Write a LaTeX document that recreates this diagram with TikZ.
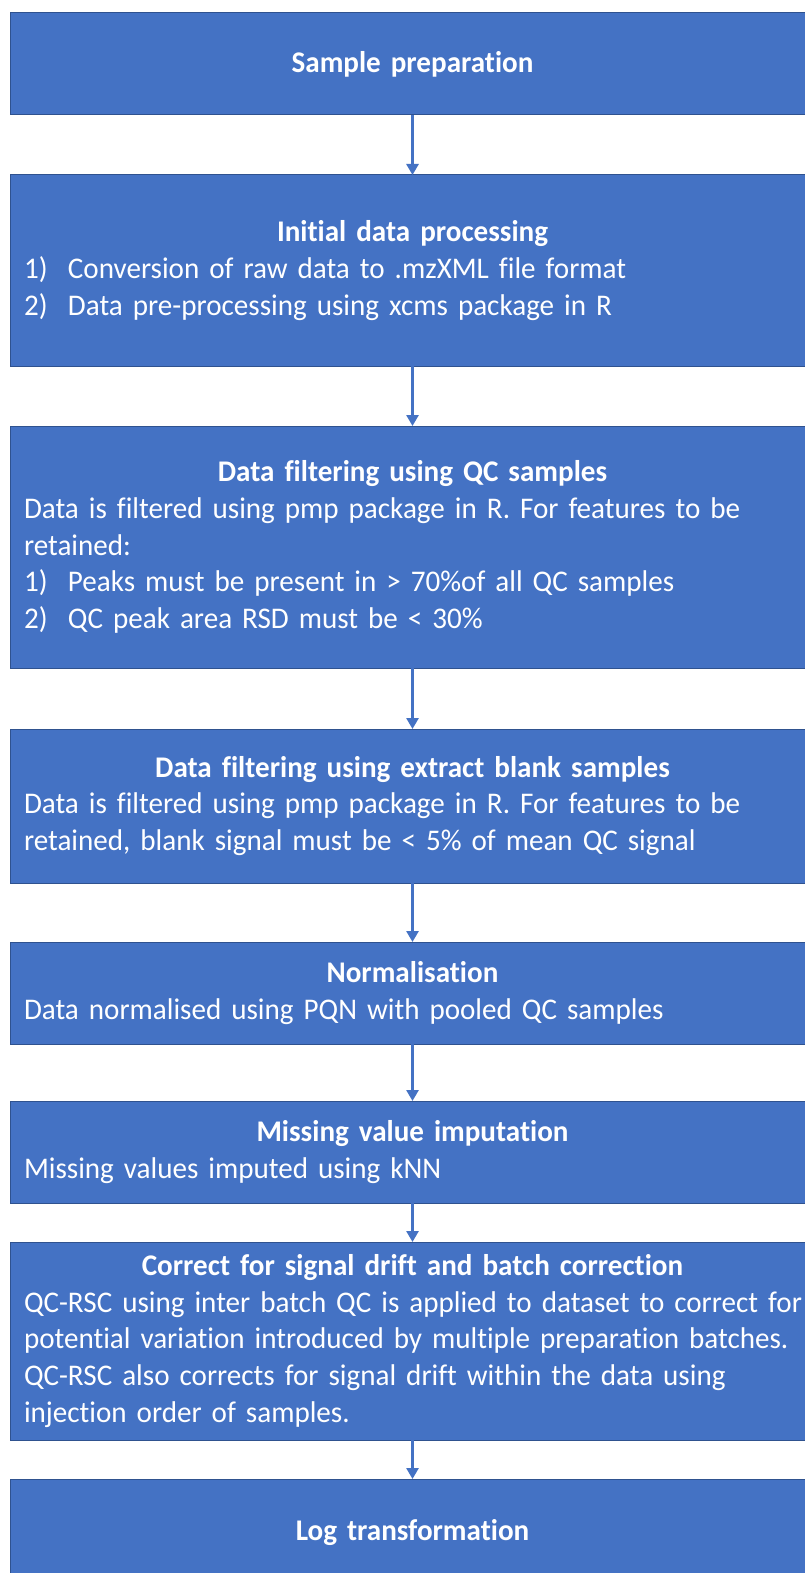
\documentclass[tikz,border=0pt]{standalone}
\usepackage{fontspec}
\setmainfont{Carlito}[Ligatures=NoCommon, FakeStretch=0.97]
\usetikzlibrary{arrows.meta}

\definecolor{boxfill}{HTML}{4472C4}
\definecolor{boxedge}{HTML}{2F528F}

% numbered list entry with a hanging label
\newcommand{\numitem}[2]{\mbox{\makebox[44pt][l]{#1}#2}}
\newcommand{\stagetitle}[1]{\makebox[777pt][c]{\bfseries #1}}

\tikzset{
  stage/.style={draw=boxedge, fill=boxfill, line width=1pt, text=white,
    anchor=north west, inner xsep=14pt, inner ysep=0pt, outer sep=0pt,
    text width=777pt, align=left, font=\fontsize{30}{36.6}\selectfont},
  flow/.style={draw=boxfill, line width=2.6pt,
    -{Triangle[width=12pt,length=11pt]}}
}

\begin{document}
\begin{tikzpicture}[x=1pt,y=1pt]
\clip (0,0) rectangle (805,-1573);
\fill[white] (0,0) rectangle (805,-1573);

\node[stage, minimum height=102pt] (prep) at (10,-13)
  {\stagetitle{Sample preparation}};

\node[stage, minimum height=191pt] (init) at (10,-175)
  {\stagetitle{Initial data processing}\\
   \numitem{1)}{Conversion of raw data to .mzXML file format}\\
   \numitem{2)}{Data pre-processing using xcms package in R}};

\node[stage, minimum height=242pt] (qcfilt) at (10,-426)
  {\stagetitle{Data filtering using QC samples}\\
   \mbox{Data is filtered using pmp package in R. For features to be}\\
   retained:\\
   \numitem{1)}{Peaks must be present in > 70\%of all QC samples}\\
   \numitem{2)}{QC peak area RSD must be < 30\%}};

\node[stage, minimum height=154pt] (blank) at (10,-729)
  {\stagetitle{Data filtering using extract blank samples}\\
   \mbox{Data is filtered using pmp package in R. For features to be}\\
   \mbox{retained, blank signal must be < 5\% of mean QC signal}};

\node[stage, minimum height=102pt] (norm) at (10,-942)
  {\stagetitle{Normalisation}\\
   \mbox{Data normalised using PQN with pooled QC samples}};

\node[stage, minimum height=102pt] (impute) at (10,-1101)
  {\stagetitle{Missing value imputation}\\
   \mbox{Missing values imputed using kNN}};

\node[stage, minimum height=198pt] (drift) at (10,-1242)
  {\stagetitle{Correct for signal drift and batch correction}\\
   \mbox{QC-RSC using inter batch QC is applied to dataset to correct for}\\
   \mbox{potential variation introduced by multiple preparation batches.}\\
   \mbox{QC-RSC also corrects for signal drift within the data using}\\
   \mbox{injection order of samples.}};

\node[stage, minimum height=106pt] (logt) at (10,-1479)
  {\stagetitle{Log transformation}};

\draw[flow] (prep.south) -- (init.north);
\draw[flow] (init.south) -- (qcfilt.north);
\draw[flow] (qcfilt.south) -- (blank.north);
\draw[flow] (blank.south) -- (norm.north);
\draw[flow] (norm.south) -- (impute.north);
\draw[flow] (impute.south) -- (drift.north);
\draw[flow] (drift.south) -- (logt.north);
\end{tikzpicture}
\end{document}
